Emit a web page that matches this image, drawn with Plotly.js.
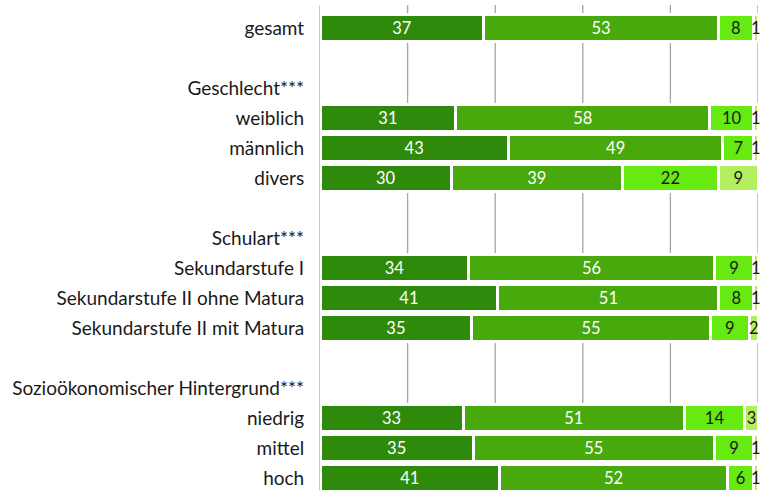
<!DOCTYPE html>
<html><head><meta charset="utf-8">
<script src="https://cdn.plot.ly/plotly-3.0.1.min.js"></script>
<style>html,body{margin:0;padding:0;background:#fff;}#chart{width:760px;height:490px;}</style>
</head><body><div id="chart"></div>
<script>
const categories = ["gesamt", "", "Geschlecht***", "weiblich", "männlich", "divers", "", "Schulart***",
  "Sekundarstufe I", "Sekundarstufe II ohne Matura", "Sekundarstufe II mit Matura", "",
  "Sozioökonomischer Hintergrund***", "niedrig", "mittel", "hoch"];
const s1 = [37, null, null, 31, 43, 30, null, null, 34, 41, 35, null, null, 33, 35, 41];
const s2 = [53, null, null, 58, 49, 39, null, null, 56, 51, 55, null, null, 51, 55, 52];
const s3 = [8,  null, null, 10, 7, 22, null, null, 9, 8, 9, null, null, 14, 9, 6];
const s4 = [1,  null, null, 1, 1, 9, null, null, 1, 1, 2, null, null, 3, 1, 1];
const gridTicks = [20, 40, 60, 80, 100];

const colors = ["#2f8a0b", "#48a90d", "#66ea12", "#b2ee5e"];
const textColors = ["#ffffff", "#ffffff", "#1a1a1a", "#1a1a1a"];
const idx = categories.map((c, i) => i);
const series = [s1, s2, s3, s4];

const traces = series.map((s, k) => ({
  type: "bar", orientation: "h", y: idx, x: s,
  marker: {color: colors[k], line: {color: "#ffffff", width: 3}},
  text: s.map(v => v === null ? "" : String(v)),
  textposition: "inside",
  insidetextanchor: "middle",
  textangle: 0,
  constraintext: "none",
  cliponaxis: false,
  insidetextfont: {family: "Lato, sans-serif", size: 16.5, color: textColors[k]},
  hoverinfo: "none", showlegend: false
}));

// gridlines only through empty rows (bars hide them elsewhere)
const shapes = [];
const dataRows = idx.filter(i => s1[i] !== null);
const spans = [[-0.78, dataRows[0] - 0.45]];
for (let j = 0; j < dataRows.length - 1; j++) {
  if (dataRows[j + 1] - dataRows[j] > 1) spans.push([dataRows[j] + 0.45, dataRows[j + 1] - 0.45]);
}
spans.forEach(sp => gridTicks.forEach(t => shapes.push({
  type: "line", xref: "x", yref: "y", x0: t, x1: t, y0: sp[0], y1: sp[1],
  line: {color: "#a6a6a6", width: 1.3}, layer: "below"
})));

const layout = {
  width: 760, height: 490,
  margin: {l: 320, r: 2, t: 5, b: 0},
  barmode: "stack", barnorm: "percent", bargap: 0.1,
  paper_bgcolor: "#ffffff", plot_bgcolor: "#ffffff",
  font: {family: "Lato, sans-serif", size: 16, color: "#1a1a1a"},
  xaxis: {range: [0, 100], showgrid: false, zeroline: false, showticklabels: false, ticks: "", fixedrange: true},
  yaxis: {range: [15.4, -0.78], tickmode: "array", tickvals: idx, ticktext: categories,
    showgrid: false, zeroline: false, showline: true, linecolor: "#c8c8c8", linewidth: 1,
    ticks: "", ticklabelstandoff: 11, tickfont: {family: "Lato, sans-serif", size: 19, color: "#1a1a1a"}},
  shapes: shapes
};
Plotly.newPlot("chart", traces, layout, {displayModeBar: false, staticPlot: true});
</script></body></html>
